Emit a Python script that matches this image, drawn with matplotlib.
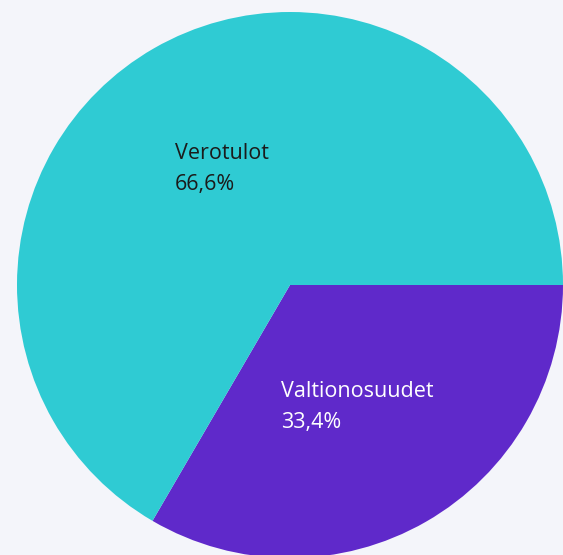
import matplotlib
matplotlib.use("Agg")
from matplotlib import pyplot as plt

labels = ["Valtionosuudet", "Verotulot"]
shares = [33.4, 66.6]
share_text = ["33,4%", "66,6%"]
colors = ["#5F29CA", "#2FCBD3"]
text_colors = ["white", "#1b1b1b"]

W, H = 563, 555
fig = plt.figure(figsize=(W / 100, H / 100), dpi=100)
fig.patch.set_facecolor("#F4F5FA")
ax = fig.add_axes([0, 0, 1, 1])
ax.set_facecolor("#F4F5FA")

cx, cy, r = 290, H - 285, 273
ax.pie(shares, colors=colors, startangle=0, counterclock=False,
       center=(cx, cy), radius=r, frame=True,
       wedgeprops=dict(linewidth=0))
ax.set_xlim(0, W)
ax.set_ylim(0, H)
ax.set_aspect("equal")
ax.axis("off")

# label positions (top-left corner, pixels from top)
pos = [(281, 381), (175, 143)]
for (x, y), lab, pct, tc in zip(pos, labels, share_text, text_colors):
    ax.text(x, H - y, lab + "\n" + pct, ha="left", va="top", color=tc,
            fontsize=15.5, family="Open Sans", linespacing=1.6)

fig.savefig("out.png", dpi=100, facecolor=fig.get_facecolor())
